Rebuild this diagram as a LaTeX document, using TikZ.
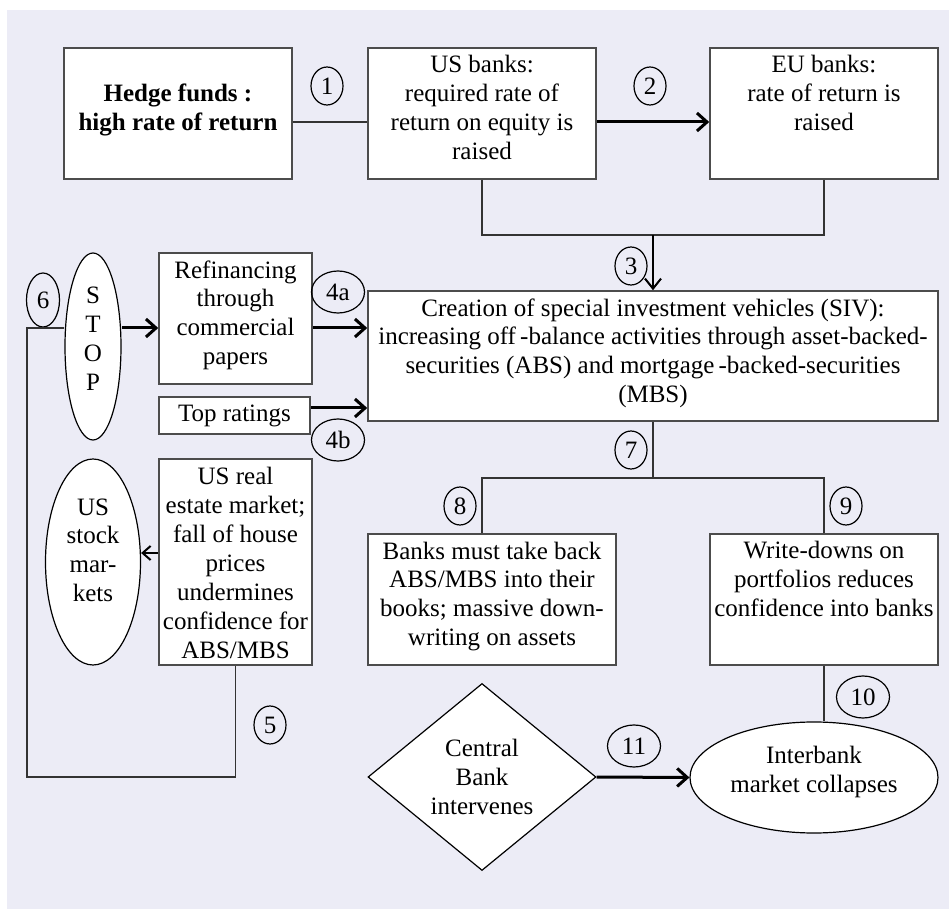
\documentclass[tikz,border=0pt]{standalone}
\usepackage{fontspec}
\setmainfont{Liberation Serif}
\usetikzlibrary{shapes.geometric,arrows.meta}
\definecolor{bgl}{RGB}{236,236,246}
\begin{document}
\begin{tikzpicture}[x=0.5pt,y=-0.5pt,font=\fontsize{12.5}{14.5}\selectfont,
  box/.style={draw=black!70,line width=0.8pt,fill=white,align=center,inner xsep=1pt,inner ysep=3pt},
  tbox/.style 2 args={box,text height=#1,text depth=#2},
  oval/.style={draw,ellipse,line width=0.6pt,fill=white,align=center,inner sep=0pt,text depth=3pt},
  num/.style={draw,ellipse,line width=0.6pt,inner sep=0pt,minimum width=16pt,minimum height=19pt},
  wide/.style={minimum width=26.5pt,minimum height=21pt},
  ln/.style={draw=black!80,line width=0.7pt},
  arr/.style={line width=1.5pt,-{Straight Barb[length=5pt,width=9pt]}}]
\useasboundingbox (0,0) rectangle (949,909);
\fill[bgl] (7,10) rectangle (949,909);
% boxes
\node[tbox={38.5pt}{21pt},minimum width=114pt] (hedge) at (178,113.5) {\textbf{Hedge funds :}\\\textbf{high rate of return}};
\node[tbox={53pt}{6.5pt},minimum width=114pt] (usb) at (482,113.5) {US banks:\\required rate of\\return on equity is\\raised};
\node[tbox={38.5pt}{21pt},minimum width=114pt] (eub) at (824,113.5) {EU banks:\\rate of return is\\raised};
\node[tbox={53pt}{6pt},minimum width=285pt] (siv) at (653,356) {Creation of special investment vehicles (SIV):\\increasing off\,-balance activities through asset-backed-\\securities (ABS) and mortgage\,-backed-securities\\(MBS)};
\node[tbox={53pt}{6.5pt},minimum width=76.5pt] (refi) at (235.5,318.5) {Refinancing\\through\\commercial\\papers};
\node[box,minimum width=75.5pt,minimum height=18.5pt] (rat) at (234.5,415.5) {Top ratings};
\node[tbox={96.5pt}{0.5pt},minimum width=76.5pt] (real) at (235.5,562) {US real\\estate market;\\fall of house\\prices\\undermines\\confidence for\\ABS/MBS};
\node[tbox={53pt}{6.5pt},minimum width=124pt] (banks) at (492,599.5) {Banks must take back\\ABS/MBS into their\\books; massive down-\\writing on assets};
\node[tbox={38.5pt}{21pt},minimum width=114pt] (wd) at (824,599.5) {Write-downs on\\portfolios reduces\\confidence into banks};
% ovals and diamond
\node[oval,minimum width=28pt,minimum height=93.5pt,text height=47.5pt] (stop) at (93,346.5) {S\\T\\O\\P};
\node[oval,minimum width=47.5pt,minimum height=103pt,text height=43pt] (stock) at (93,562) {US\\stock\\mar-\\kets};
\node[oval,minimum width=124pt,minimum height=55.5pt,text height=17.5pt] (inter) at (814,777.5) {Interbank\\market collapses};
\node[draw,diamond,line width=0.6pt,fill=white,align=center,inner sep=0pt,minimum width=114pt,minimum height=93.5pt] (cb) at (482,777) {Central\\Bank\\intervenes};
% numbers
\foreach \t/\x/\y in {1/327/86,2/650/86,3/631/266,5/270/725,7/631/450,8/460/506,9/846/506}{\node[num] (c\t) at (\x,\y) {\t};}
\foreach \t/\x/\y in {4a/338/292,4b/338/440,10/863/697,11/634/746}{\node[num,wide] (c\t) at (\x,\y) {\t};}
\node[num,minimum width=16.5pt,minimum height=27pt] (c6) at (43,300) {6};
% connectors
\coordinate (h1) at (0,122);\coordinate (h4) at (0,328);\coordinate (h5) at (0,408);\coordinate (h6) at (0,553);
\coordinate (j3) at (653,235);\coordinate (j7) at (653,478);\coordinate (j6) at (27,777);
\draw[ln] (hedge.east|-h1) -- (usb.west|-h1);
\draw[arr] (usb.east|-h1) -- (eub.west|-h1);
\draw[ln] (usb.south) |- (j3) -| (eub.south);
\draw[line width=1pt,-{Straight Barb[length=5pt,width=8pt]}] (j3) -- (siv.north);
\draw[arr] (stop.east|-h4) -- (refi.west|-h4);
\draw[arr] (refi.east|-h4) -- (siv.west|-h4);
\draw[arr] (rat.east|-h5) -- (siv.west|-h5);
\draw[line width=1pt,-{Straight Barb[length=4pt,width=7pt]}] (real.west|-h6) -- (stock.east|-h6);
\draw[ln] (real.south) |- (j6) |- (stop.west|-h4);
\draw[ln] (siv.south) -- (j7);
\draw[ln] (banks.north-|usb.south) |- (j7) -| (wd.north);
\draw[ln] (wd.south) -- (wd.south|-inter.north);
\draw[arr] (cb.east) -- (inter.west);
\end{tikzpicture}
\end{document}
